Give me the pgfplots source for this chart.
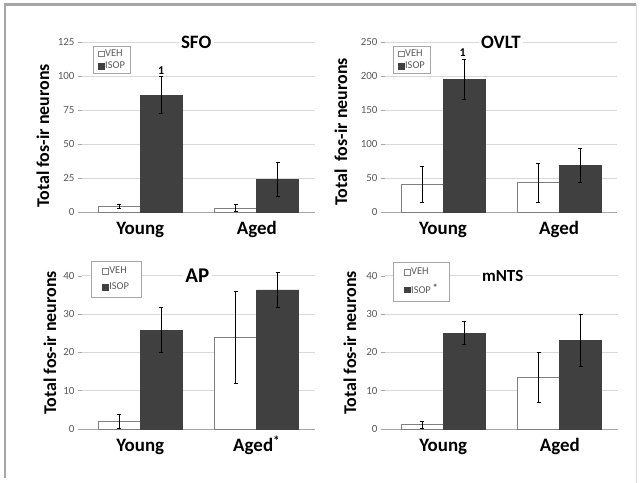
\documentclass[border=0pt]{standalone}
\usepackage{pgfplots}
\pgfplotsset{compat=1.18}
\usepackage{pgfplotstable}
\usepackage{fontspec}
\setmainfont{Carlito}
\definecolor{darkbar}{HTML}{404040}
\definecolor{tickgray}{HTML}{595959}
\definecolor{gridgray}{HTML}{D9D9D9}
\definecolor{framegray}{HTML}{A6A6A6}
\definecolor{outlinegray}{HTML}{7F7F7F}

\pgfplotstableread{
x veh vehe isop isope
0 4.3 1.5 86 13.5
1 3.0 2.6 24 12.6
}\sfo
\pgfplotstableread{
x veh vehe isop isope
0 41 26.5 195 30
1 43 29 68 25
}\ovlt
\pgfplotstableread{
x veh vehe isop isope
0 2.1 1.8 25.8 5.9
1 24.0 12.0 36.3 4.6
}\ap
\pgfplotstableread{
x veh vehe isop isope
0 1.1 0.8 25.0 3.0
1 13.5 6.5 23.2 6.8
}\mnts

\tikzset{
 ylab/.style={rotate=90, font=\fontsize{18}{18}\selectfont\bfseries, anchor=center},
 ttl/.style={fill=white, inner sep=2.5bp, font=\fontsize{#1}{#1}\selectfont\bfseries},
}
\newcommand\legfont{\fontsize{10.5}{12}\selectfont}
\pgfplotsset{
 sqleg/.style={legend image code/.code={\draw[##1, line width=0.5bp] (0bp,-2.8bp) rectangle (5.6bp,2.8bp);}},
 veh/.style={fill=white, draw=outlinegray, line width=0.6bp, sqleg},
 isop/.style={fill=darkbar, draw=darkbar, line width=0.6bp, sqleg},
 panel/.style={
  scale only axis, width=233bp, clip=false,
  ybar=0pt, bar width=42bp,
  xmin=-0.5, xmax=1.5, xtick={0,1},
  ymin=0,
  axis x line*=bottom, axis y line*=left,
  x axis line style={-, draw=framegray, line width=0.8bp},
  y axis line style={draw=none},
  tick align=outside, major tick length=4bp,
  xtick style={draw=none},
  ytick style={draw=framegray, line width=0.5bp},
  ymajorgrids, grid style={draw=gridgray, line width=0.6bp},
  yticklabel style={font=\fontsize{11}{11}\selectfont, text=tickgray},
  xticklabel style={font=\fontsize{19}{19}\selectfont\bfseries, text=black,
     text height=13bp, text depth=4bp, yshift=-2bp},
  /pgf/number format/assume math mode=true,
  error bars/y dir=both, error bars/y explicit,
  error bars/error bar style={black, line width=0.6bp},
  error bars/error mark options={rotate=90, mark size=2bp, line width=0.6bp, black},
  legend cell align=left,
  legend style={anchor=north west, draw=framegray, line width=0.6bp,
    font=\legfont, nodes={font=\legfont, text=tickgray, inner sep=0.8bp},
    inner xsep=5bp, inner ysep=2.5bp, row sep=2.5bp,
    /tikz/every even column/.append style={column sep=1bp}},
 },
 bigleg/.style={legend style={inner xsep=11bp, inner ysep=5bp, row sep=6bp}},
}

\begin{document}
\begin{tikzpicture}
\path[use as bounding box] (0bp,0bp) rectangle (643bp,483bp);
\draw[framegray, line width=2.5bp] (5bp,5bp) -- (5bp,478.5bp) -- (636bp,478.5bp);
\draw[gridgray, line width=0.8bp] (636bp,478.5bp) -- (636bp,0bp);

% SFO
\begin{axis}[panel, at={(82bp,271bp)}, anchor=south west, height=170bp,
  ymax=125, ytick={0,25,50,75,100,125}, xticklabels={Young,Aged},
  legend style={at={(0.047,0.976)}}]
\addplot[veh] table[x=x,y=veh,y error=vehe] {\sfo};
\addplot[isop] table[x=x,y=isop,y error=isope] {\sfo};
\legend{VEH,ISOP}
\node[ttl=19] at (axis cs:0.48,125) {SFO};
\node[font=\fontsize{12}{12}\selectfont\bfseries] at (axis cs:0.18,104) {1};
\node[ylab] at ([xshift=-39bp,yshift=-9bp]rel axis cs:0,0.5) {Total fos-ir neurons};
\end{axis}

% OVLT
\begin{axis}[panel, at={(385bp,271bp)}, anchor=south west, height=170bp, width=232bp,
  ymax=250, ytick={0,50,100,150,200,250}, xticklabels={Young,Aged},
  legend style={at={(0.034,0.976)}}]
\addplot[veh] table[x=x,y=veh,y error=vehe] {\ovlt};
\addplot[isop] table[x=x,y=isop,y error=isope] {\ovlt};
\legend{VEH,ISOP}
\node[ttl=19] at (axis cs:0.5,250) {OVLT};
\node[font=\fontsize{12}{12}\selectfont\bfseries] at (axis cs:0.17,234) {1};
\node[ylab] at ([xshift=-44bp,yshift=-5bp]rel axis cs:0,0.5) {Total\ \ fos-ir neurons};
\end{axis}

% AP
\begin{axis}[panel, bigleg, at={(82bp,54bp)}, anchor=south west, height=172.4bp,
  ymax=45, ytick={0,10,20,30,40}, xticklabels={Young,Aged\textsuperscript{\bfseries *}},
  legend style={at={(0.039,0.974)}}]
\addplot[veh] table[x=x,y=veh,y error=vehe] {\ap};
\addplot[isop] table[x=x,y=isop,y error=isope] {\ap};
\legend{VEH,ISOP}
\node[ttl=21] at (axis cs:0.49,40) {AP};
\node[ylab] at ([xshift=-32bp,yshift=0bp]rel axis cs:0,0.5) {Total fos-ir neurons};
\end{axis}

% mNTS
\begin{axis}[panel, bigleg, at={(385bp,54bp)}, anchor=south west, height=172.4bp,
  ymax=45, ytick={0,10,20,30,40}, xticklabels={Young,Aged},
  legend style={at={(0.034,0.969)}}]
\addplot[veh] table[x=x,y=veh,y error=vehe] {\mnts};
\addplot[isop] table[x=x,y=isop,y error=isope] {\mnts};
\legend{VEH,ISOP\,\rlap{\raisebox{0.5ex}{\bfseries *}}\hphantom{\bfseries *}}
\node[ttl=17] at (axis cs:0.51,40) {mNTS};
\node[ylab] at ([xshift=-35bp,yshift=0bp]rel axis cs:0,0.5) {Total fos-ir neurons};
\end{axis}
\end{tikzpicture}
\end{document}
